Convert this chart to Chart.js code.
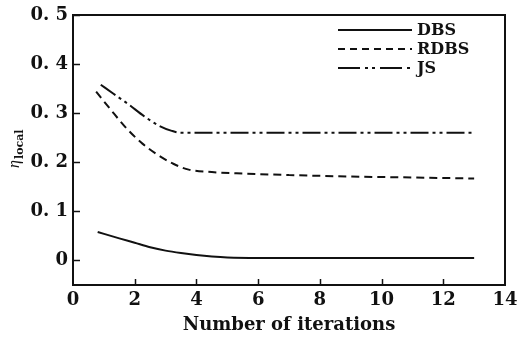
<!DOCTYPE html>
<html><head><meta charset="utf-8">
<script src="https://cdn.jsdelivr.net/npm/chart.js@4"></script>
<style>html,body{margin:0;padding:0;background:#fff}</style>
</head><body>
<canvas id="c" width="517" height="340"></canvas>
<script>
const seriesNames = ["DBS", "RDBS", "JS"];
const dbsX = [0.8, 1.5, 2, 2.5, 3, 3.5, 4, 4.5, 5, 6, 8, 13];
const dbsY = [0.058, 0.045, 0.036, 0.027, 0.02, 0.015, 0.011, 0.008, 0.006, 0.005, 0.005, 0.005];
const rdbsX = [0.75, 1.25, 1.75, 2.25, 2.75, 3.25, 3.75, 4.5, 5.5, 7, 9, 11, 13];
const rdbsY = [0.344, 0.305, 0.268, 0.238, 0.215, 0.197, 0.185, 0.18, 0.177, 0.174, 0.171, 0.169, 0.167];
const jsX = [0.9, 1.3, 1.8, 2.3, 2.8, 3.2, 3.5, 5, 8, 13];
const jsY = [0.358, 0.34, 0.318, 0.294, 0.274, 0.264, 0.26, 0.26, 0.26, 0.26];
const xTicks = [0, 2, 4, 6, 8, 10, 12, 14];
const yTicks = [0, 0.1, 0.2, 0.3, 0.4, 0.5];
const yTickLabels = ["0", "0. 1", "0. 2", "0. 3", "0. 4", "0. 5"];
const xTitle = "Number of iterations";

const pts = (xs, ys) => xs.map((x, i) => ({x, y: ys[i]}));
const dashes = [[], [8, 5], [18, 4, 3, 4, 3, 4]];
const legendDashes = [[], [7, 5], [22, 5, 3, 4, 3, 5]];
const ink = "#111";
const serif = "'DejaVu Serif', 'Liberation Serif', serif";

const frame = {
  id: "frame",
  afterDraw(chart) {
    const {ctx, chartArea: a, scales: {x, y}} = chart;
    ctx.save();
    ctx.strokeStyle = ink;
    ctx.lineWidth = 2;
    ctx.setLineDash([]);
    ctx.strokeRect(a.left, a.top, a.right - a.left, a.bottom - a.top);
    ctx.lineWidth = 1.5;
    yTicks.forEach(v => {
      const py = Math.round(y.getPixelForValue(v)) + 0.5;
      ctx.beginPath(); ctx.moveTo(a.left, py); ctx.lineTo(a.left + 7, py); ctx.stroke();
    });
    xTicks.slice(1, -1).forEach(v => {
      const px = Math.round(x.getPixelForValue(v)) + 0.5;
      ctx.beginPath(); ctx.moveTo(px, a.bottom); ctx.lineTo(px, a.bottom - 6); ctx.stroke();
    });
    // legend
    ctx.font = "bold 16px " + serif;
    ctx.textBaseline = "middle";
    ctx.fillStyle = ink;
    chart.data.datasets.forEach((ds, i) => {
      const ly = 30 + i * 19;
      ctx.lineWidth = 2;
      ctx.setLineDash(legendDashes[i]);
      ctx.beginPath(); ctx.moveTo(338, ly); ctx.lineTo(412, ly); ctx.stroke();
      ctx.setLineDash([]);
      ctx.fillText(ds.label, 417, ly + 1);
    });
    // y title
    ctx.save();
    ctx.translate(19, 146);
    ctx.rotate(-Math.PI / 2);
    ctx.textBaseline = "alphabetic";
    ctx.font = "italic 16px 'Liberation Serif'";
    ctx.fillText("η", -22, 0);
    ctx.font = "bold 11px " + serif;
    ctx.fillText("local", -13, 4);
    ctx.restore();
    ctx.restore();
  }
};

new Chart(document.getElementById("c"), {
  type: "line",
  data: {
    datasets: [
      {label: seriesNames[0], data: pts(dbsX, dbsY), borderDash: dashes[0]},
      {label: seriesNames[1], data: pts(rdbsX, rdbsY), borderDash: dashes[1]},
      {label: seriesNames[2], data: pts(jsX, jsY), borderDash: dashes[2]}
    ].map(d => Object.assign(d, {borderColor: ink, borderWidth: 2, pointRadius: 0, fill: false, cubicInterpolationMode: "monotone"}))
  },
  options: {
    responsive: false, animation: false, devicePixelRatio: 1,
    layout: {padding: {top: 15, right: 12, left: 0, bottom: 0}},
    plugins: {legend: {display: false}, tooltip: {enabled: false}},
    scales: {
      x: {
        type: "linear", min: 0, max: 14,
        afterBuildTicks: s => { s.ticks = xTicks.map(v => ({value: v})); },
        afterFit: s => { s.height = 55; s.paddingLeft = 0; s.paddingRight = 0; },
        grid: {display: false, drawTicks: false},
        border: {display: false},
        ticks: {color: ink, padding: 5, maxRotation: 0, font: {family: serif, size: 18, weight: "bold"}},
        title: {display: true, text: xTitle, color: ink, padding: {top: 0}, font: {family: serif, size: 18, weight: "bold"}}
      },
      y: {
        type: "linear", min: -0.05, max: 0.5,
        afterBuildTicks: s => { s.ticks = yTicks.map(v => ({value: v})); },
        afterFit: s => { s.width = 73; s.paddingTop = 0; s.paddingBottom = 0; },
        grid: {display: false, drawTicks: false},
        border: {display: false},
        ticks: {color: ink, padding: 5, font: {family: serif, size: 18, weight: "bold"},
          callback: (v) => { const i = yTicks.findIndex(t => Math.abs(t - v) < 1e-9); return i >= 0 ? yTickLabels[i] : ""; }}
      }
    }
  },
  plugins: [frame]
});
</script>
</body></html>
